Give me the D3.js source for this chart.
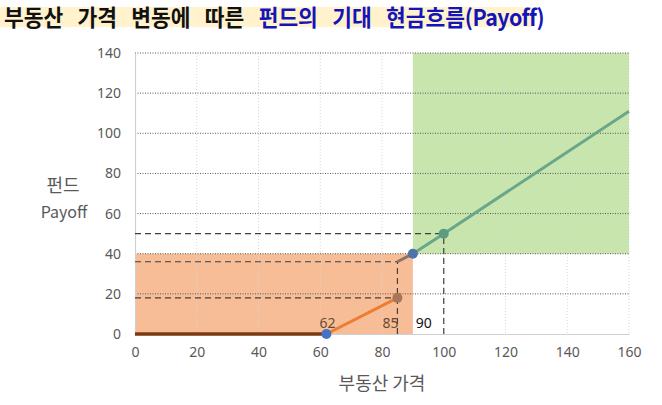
<!DOCTYPE html>
<html><head><meta charset="utf-8">
<script src="https://cdn.jsdelivr.net/npm/d3@7"></script>
<style>body{margin:0;background:#fff}svg{display:block}</style>
</head><body>
<svg id="c" width="662" height="405"></svg>
<script>
const xTicks = [0,20,40,60,80,100,120,140,160];
const yTicks = [0,20,40,60,80,100,120,140];
const flatLine = [[0,0],[62,0]];
const orangeLine = [[62,0],[85,18]];
const jumpLine = [[85,36],[90,40]];
const greenLine = [[90,40],[100,50],[160,111]];
const points = [
  {x:62,y:0,c:"#4472C4"},
  {x:85,y:18,c:"#A87558"},
  {x:90,y:40,c:"#4F72A8"},
  {x:100,y:50,c:"#5E9C80"}
];
const labels = [{x:62,t:"62",c:"#6B4A33"},{x:85,t:"85",c:"#6B4A33"},{x:90,t:"90",c:"#111"}];
const lossZone = {x0:0,x1:90,y0:0,y1:40};
const gainZone = {x0:90,x1:160,y0:40,y1:140};
const hDashes = [{y:50,x1:100},{y:36,x1:85},{y:18,x1:85}];
const vDashes = [{x:100,y0:0,y1:50},{x:85,y0:0,y1:36}];

const svg = d3.select("#c");
const x = d3.scaleLinear().domain([0,160]).range([135,629]);
const y = d3.scaleLinear().domain([0,140]).range([334,53]);

// title
svg.append("rect").attr("x",0).attr("y",7).attr("width",532).attr("height",20).attr("fill","#FFF2CC");
const title = svg.append("text").attr("x",0).attr("y",0)
  .attr("font-family","'Noto Sans CJK KR', sans-serif").attr("font-weight","bold").attr("font-size",22.5)
  .attr("word-spacing",10);
title.append("tspan").attr("fill","#111").text("부동산 가격 변동에 따른 ");
title.append("tspan").attr("fill","#1414B8").text("펀드의 기대 현금흐름");
title.append("tspan").attr("fill","#1414B8").attr("letter-spacing",-0.6).text("(Payoff)");
const tw = title.node().getBBox().width;
title.attr("transform",`translate(4,26) scale(${540/tw},1)`);

// zones
svg.append("rect").attr("x",x(lossZone.x0)).attr("y",y(lossZone.y1))
  .attr("width",x(lossZone.x1)-x(lossZone.x0)).attr("height",y(lossZone.y0)-y(lossZone.y1)).attr("fill","#F7BD97");
svg.append("rect").attr("x",x(gainZone.x0)).attr("y",y(gainZone.y1))
  .attr("width",x(gainZone.x1)-x(gainZone.x0)).attr("height",y(gainZone.y0)-y(gainZone.y1)).attr("fill","#C8E5AE");

// vertical grid (faint)
svg.append("g").selectAll("line").data(xTicks.slice(1)).join("line")
  .attr("x1",d=>x(d)).attr("x2",d=>x(d)).attr("y1",y(140)).attr("y2",y(0))
  .attr("stroke","#d6d6d6").attr("stroke-width",1).attr("stroke-dasharray","1,2");
// horizontal grid
svg.append("g").selectAll("line").data(yTicks.slice(1)).join("line")
  .attr("x1",x(0)).attr("x2",x(160)).attr("y1",d=>y(d)).attr("y2",d=>y(d))
  .attr("stroke","#555").attr("stroke-width",1).attr("stroke-dasharray","1,1.5");

// axes
const yAxis = svg.append("g").attr("transform",`translate(${x(0)},0)`)
  .call(d3.axisLeft(y).tickValues(yTicks).tickSize(0).tickPadding(14));
const xAxis = svg.append("g").attr("transform",`translate(0,${y(0)})`)
  .call(d3.axisBottom(x).tickValues(xTicks).tickSize(0).tickPadding(13));
[yAxis,xAxis].forEach(a=>{
  a.select(".domain").attr("stroke","#d0d0d0").attr("stroke-width",1.2);
  a.selectAll("text").attr("font-family","'Noto Sans', sans-serif").attr("font-size",14).attr("fill","#595959");
});

// dashed guides
const g = svg.append("g").attr("stroke","#404040").attr("stroke-width",1.2).attr("stroke-dasharray","6,4");
g.selectAll(".h").data(hDashes).join("line").attr("x1",x(0)).attr("x2",d=>x(d.x1)).attr("y1",d=>y(d.y)).attr("y2",d=>y(d.y));
g.selectAll(".v").data(vDashes).join("line").attr("x1",d=>x(d.x)).attr("x2",d=>x(d.x)).attr("y1",d=>y(d.y0)).attr("y2",d=>y(d.y1));

// lines
const line = d3.line().x(d=>x(d[0])).y(d=>y(d[1]));
svg.append("path").attr("d",line(flatLine)).attr("fill","none").attr("stroke","#7B3A12").attr("stroke-width",3.5);
svg.append("path").attr("d",line(orangeLine)).attr("fill","none").attr("stroke","#ED7D31").attr("stroke-width",3);
svg.append("path").attr("d",line(jumpLine)).attr("fill","none").attr("stroke","#8C7268").attr("stroke-width",3);
svg.append("path").attr("d",line(greenLine)).attr("fill","none").attr("stroke","#6AA78A").attr("stroke-width",3);

// points
svg.append("g").selectAll("circle").data(points).join("circle")
  .attr("cx",d=>x(d.x)).attr("cy",d=>y(d.y)).attr("r",5).attr("fill",d=>d.c);

// value labels
svg.append("g").selectAll("text").data(labels).join("text")
  .attr("x",d=>x(d.x)+ (d.x===90?11:(d.x===85?-7:1))).attr("y",y(0)-6).attr("text-anchor","middle")
  .attr("font-family","'Noto Sans', sans-serif").attr("font-size",14).attr("fill",d=>d.c).text(d=>d.t);

// axis titles
const yt = svg.append("text").attr("text-anchor","middle").attr("font-family","'Noto Sans CJK KR', sans-serif")
  .attr("fill","#595959");
yt.append("tspan").attr("x",63).attr("y",192).attr("font-size",18).text("펀드");
yt.append("tspan").attr("x",64).attr("y",218).attr("font-size",16).text("Payoff");
svg.append("text").attr("x",382).attr("y",390).attr("text-anchor","middle")
  .attr("font-family","'Noto Sans CJK KR', sans-serif").attr("font-size",18).attr("fill","#595959").text("부동산 가격");
</script>
</body></html>
